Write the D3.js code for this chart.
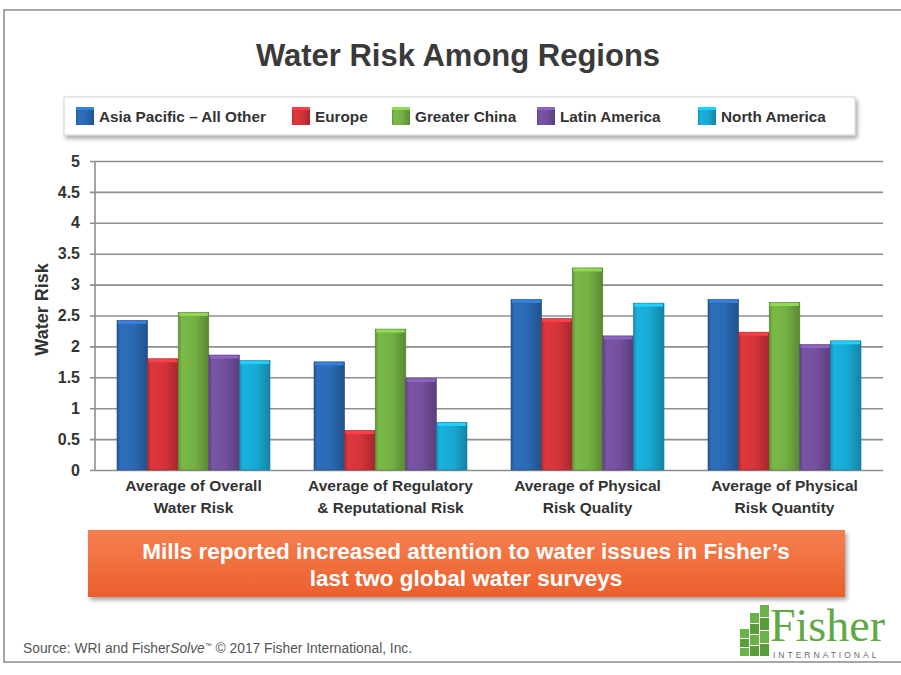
<!DOCTYPE html>
<html>
<head>
<meta charset="utf-8">
<script src="https://cdn.jsdelivr.net/npm/d3@7"></script>
<style>
  body { margin: 0; background: #fff; }
  svg { display: block; font-family: "Liberation Sans", Arial, sans-serif; }
</style>
</head>
<body>
<svg id="chart" width="901" height="675"></svg>
<script>
const categories = [
  ['Average of Overall', 'Water Risk'],
  ['Average of Regulatory', '& Reputational Risk'],
  ['Average of Physical', 'Risk Quality'],
  ['Average of Physical', 'Risk Quantity']
];
const series = ['Asia Pacific \u2013 All Other', 'Europe', 'Greater China', 'Latin America', 'North America'];
const asiaPacific = [2.42, 1.75, 2.76, 2.76];
const europe = [1.80, 0.64, 2.45, 2.23];
const greaterChina = [2.55, 2.28, 3.27, 2.71];
const latinAmerica = [1.86, 1.48, 2.17, 2.03];
const northAmerica = [1.77, 0.77, 2.70, 2.09];
const yTicks = [0, 0.5, 1, 1.5, 2, 2.5, 3, 3.5, 4, 4.5, 5];

const values = [asiaPacific, europe, greaterChina, latinAmerica, northAmerica];
const colors = ['#2b69b3', '#d4333a', '#74b043', '#73509e', '#18a9d3'];

let svg = d3.select('#chart'),
    margin = { top: 161, right: 18, bottom: 205, left: 95 },
    width = 901 - margin.left - margin.right,
    height = 675 - margin.top - margin.bottom;

// outer frame
svg.append('rect')
  .attr('x', 4).attr('y', 10).attr('width', 910).attr('height', 652)
  .attr('fill', '#fff').attr('stroke', '#8a8a8a').attr('stroke-width', 1.5);

svg.append('text')
  .attr('x', 458).attr('y', 66)
  .attr('text-anchor', 'middle')
  .style('font-size', '31px').style('font-weight', 'bold')
  .attr('fill', '#3a3a3a')
  .text('Water Risk Among Regions');

let defs = svg.append('defs');
colors.forEach((c, i) => {
  let grad = defs.append('linearGradient').attr('id', 'bar' + i)
    .attr('x1', 0).attr('x2', 1).attr('y1', 0).attr('y2', 0);
  let base = d3.color(c);
  grad.append('stop').attr('offset', '0%').attr('stop-color', base.darker(0.5));
  grad.append('stop').attr('offset', '12%').attr('stop-color', base.brighter(0.15));
  grad.append('stop').attr('offset', '55%').attr('stop-color', base);
  grad.append('stop').attr('offset', '100%').attr('stop-color', base.darker(0.7));
});
let shadow = defs.append('filter').attr('id', 'shadow').attr('x', '-5%').attr('y', '-20%').attr('width', '110%').attr('height', '150%');
shadow.append('feDropShadow').attr('dx', 2).attr('dy', 3).attr('stdDeviation', 2).attr('flood-color', '#000').attr('flood-opacity', 0.35);

// legend
let legend = svg.append('g');
legend.append('rect')
  .attr('x', 64).attr('y', 97).attr('width', 791).attr('height', 38)
  .attr('fill', '#fff').attr('stroke', '#d0d0d0')
  .attr('filter', 'url(#shadow)');
const legendX = [76, 292, 392, 537, 698];
series.forEach((s, i) => {
  let item = legend.append('g').attr('transform', `translate(${legendX[i]},107)`);
  item.append('rect').attr('width', 18).attr('height', 18).attr('fill', `url(#bar${i})`);
  item.append('rect').attr('width', 18).attr('height', 3).attr('fill', d3.color(colors[i]).brighter(0.6));
  item.append('text').attr('x', 23).attr('y', 14.5)
    .style('font-size', '15.3px').style('font-weight', 'bold').attr('fill', '#333')
    .text(s);
});

let g = svg.append('g').attr('transform', `translate(${margin.left},${margin.top})`);

let y = d3.scaleLinear().domain([0, 5]).range([height, 0]);
let x0 = d3.scaleBand().domain(d3.range(categories.length)).range([0, width]);
let x1 = d3.scaleBand().domain(d3.range(series.length)).range([22, x0.bandwidth() - 22]);

// gridlines
g.append('g')
  .call(d3.axisLeft(y).tickValues(yTicks).tickSize(-width - 5).tickFormat(''))
  .attr('transform', 'translate(-5,0)')
  .call(a => a.select('.domain').remove())
  .call(a => a.selectAll('line').attr('stroke', '#8f8f8f').attr('stroke-width', 1.6));

g.append('g')
  .call(d3.axisLeft(y).tickValues(yTicks).tickSize(0).tickPadding(15).tickFormat(d => d))
  .call(a => a.select('.domain').remove())
  .call(a => a.selectAll('text')
    .style('font-size', '16px').style('font-weight', 'bold')
    .style('font-family', '"Liberation Sans", Arial, sans-serif')
    .attr('fill', '#333'));

g.append('line').attr('x1', 0).attr('x2', 0).attr('y1', 0).attr('y2', height)
  .attr('stroke', '#8f8f8f').attr('stroke-width', 1.6);

g.append('text')
  .attr('transform', `translate(-47,${height / 2 - 6}) rotate(-90)`)
  .attr('text-anchor', 'middle')
  .style('font-size', '18px').style('font-weight', 'bold').attr('fill', '#333')
  .text('Water Risk');

// bars
let groups = g.selectAll('.group')
  .data(categories.map((c, ci) => values.map((v, si) => ({ si, v: v[ci] }))))
  .enter().append('g')
  .attr('class', 'group')
  .attr('transform', (d, i) => `translate(${x0(i)},0)`);

groups.selectAll('rect.bar')
  .data(d => d)
  .enter().append('rect')
  .attr('class', 'bar')
  .attr('x', d => x1(d.si))
  .attr('y', d => y(d.v))
  .attr('width', x1.bandwidth())
  .attr('height', d => height - y(d.v))
  .attr('fill', d => `url(#bar${d.si})`)
  .attr('stroke', d => d3.color(colors[d.si]).darker(0.9))
  .attr('stroke-width', 0.6);

groups.selectAll('rect.bevel')
  .data(d => d)
  .enter().append('rect')
  .attr('class', 'bevel')
  .attr('x', d => x1(d.si) + 1)
  .attr('y', d => y(d.v) + 0.5)
  .attr('width', x1.bandwidth() - 2)
  .attr('height', 3)
  .attr('fill', d => d3.color(colors[d.si]).brighter(0.6));

// category labels
let xl = g.selectAll('.xlabel')
  .data(categories)
  .enter().append('text')
  .attr('class', 'xlabel')
  .attr('text-anchor', 'middle')
  .attr('x', (d, i) => x0(i) + x0.bandwidth() / 2)
  .attr('y', height + 21)
  .style('font-family', '"Liberation Sans Narrow", "Arial Narrow", sans-serif')
  .style('font-size', '15.5px').style('font-weight', 'bold').attr('fill', '#333');
xl.selectAll('tspan')
  .data(d => d)
  .enter().append('tspan')
  .attr('x', function () { return d3.select(this.parentNode).attr('x'); })
  .attr('dy', (d, i) => i ? 22 : 0)
  .text(d => d);

// banner
let banner = svg.append('g');
let bgrad = defs.append('linearGradient').attr('id', 'banner').attr('x1', 0).attr('x2', 0).attr('y1', 0).attr('y2', 1);
bgrad.append('stop').attr('offset', '0%').attr('stop-color', '#f58050');
bgrad.append('stop').attr('offset', '100%').attr('stop-color', '#ec5f2c');
banner.append('rect')
  .attr('x', 88).attr('y', 530).attr('width', 757).attr('height', 67)
  .attr('fill', 'url(#banner)').attr('filter', 'url(#shadow)');
banner.selectAll('text')
  .data(['Mills reported increased attention to water issues in Fisher\u2019s', 'last two global water surveys'])
  .enter().append('text')
  .attr('x', 466).attr('y', (d, i) => 559 + i * 27)
  .attr('text-anchor', 'middle')
  .style('font-size', '22.5px').style('font-weight', 'bold').attr('fill', '#fff')
  .text(d => d);

// source
svg.append('text')
  .attr('x', 23).attr('y', 653)
  .style('font-size', '13.8px').attr('fill', '#555')
  .call(t => {
    t.append('tspan').text('Source: WRI and Fisher');
    t.append('tspan').style('font-style', 'italic').text('Solve');
    t.append('tspan').style('font-size', '7px').attr('dy', -5).text('\u2122');
    t.append('tspan').attr('dy', 5).text(' \u00a9 2017 Fisher International, Inc.');
  });

// logo
let logo = svg.append('g').attr('transform', 'translate(740,605)');
const logoCells = [
  [20, 0, 9, 12], [20, 13, 9, 12], [20, 26, 9, 12], [20, 39, 9, 12],
  [10, 8, 9, 10], [10, 19, 9, 10], [10, 30, 9, 10], [10, 41, 9, 10],
  [0, 24, 9, 9], [0, 34, 9, 8], [0, 43, 9, 8]
];
logo.selectAll('rect').data(logoCells).enter().append('rect')
  .attr('x', d => d[0]).attr('y', d => d[1]).attr('width', d => d[2]).attr('height', d => d[3])
  .attr('fill', (d, i) => i % 2 ? '#5a9e3a' : '#6cb24a');
logo.append('text').attr('x', 30).attr('y', 36)
  .style('font-family', '"Liberation Serif", "Times New Roman", serif')
  .style('font-size', '46px').attr('fill', '#5fa845')
  .text('Fisher');
logo.append('text').attr('x', 33).attr('y', 53)
  .style('font-size', '8.5px').style('letter-spacing', '3px').attr('fill', '#6a6a6a')
  .text('INTERNATIONAL');
</script>
</body>
</html>
